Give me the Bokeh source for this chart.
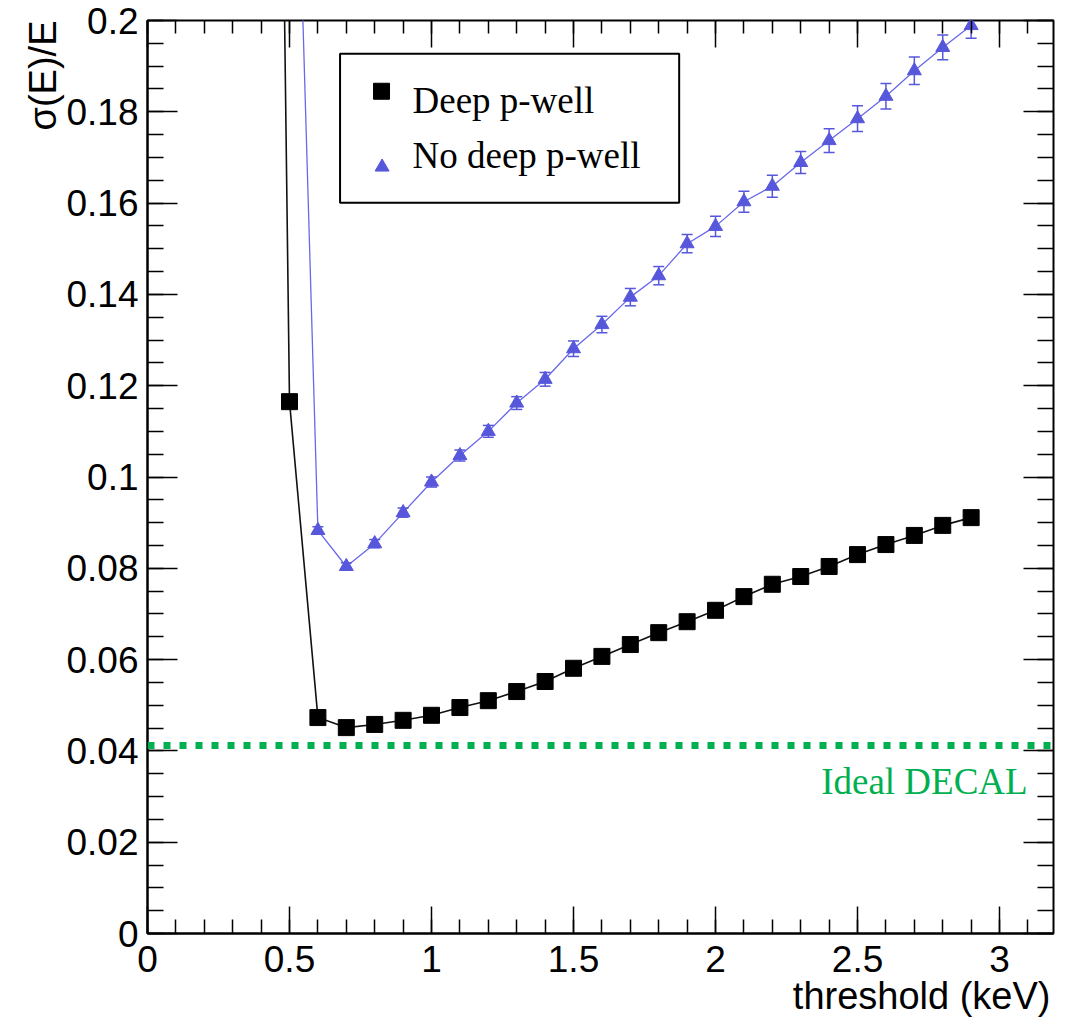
from bokeh.embed import file_html
from bokeh.models import (BoxAnnotation, ColumnDataSource, FixedTicker, Label,
                          LinearAxis, Range1d, Span, Title)
from bokeh.plotting import figure
from bokeh.resources import INLINE

# --- measured energy resolution vs. pixel threshold -------------------------
threshold_deep = [0.4, 0.5, 0.6, 0.7, 0.8, 0.9, 1.0, 1.1, 1.2, 1.3, 1.4, 1.5,
                  1.6, 1.7, 1.8, 1.9, 2.0, 2.1, 2.2, 2.3, 2.4, 2.5, 2.6, 2.7,
                  2.8, 2.9]
resolution_deep = [0.60, 0.1165, 0.0473, 0.0451, 0.0458, 0.0467, 0.0478,
                   0.0495, 0.0510, 0.0530, 0.0552, 0.0581, 0.0607, 0.0633,
                   0.0659, 0.0683, 0.0708, 0.0738, 0.0765, 0.0782, 0.0804,
                   0.0830, 0.0852, 0.0872, 0.0894, 0.0911]

threshold_nodeep = [0.5, 0.6, 0.7, 0.8, 0.9, 1.0, 1.1, 1.2, 1.3, 1.4, 1.5,
                    1.6, 1.7, 1.8, 1.9, 2.0, 2.1, 2.2, 2.3, 2.4, 2.5, 2.6,
                    2.7, 2.8, 2.9]
resolution_nodeep = [0.30, 0.0883, 0.0804, 0.0854, 0.0922, 0.0989, 0.1047,
                     0.1100, 0.1162, 0.1214, 0.1281, 0.1334, 0.1394, 0.1441,
                     0.1511, 0.1549, 0.1603, 0.1637, 0.1689, 0.1737, 0.1785,
                     0.1834, 0.1890, 0.1941, 0.1989]
error_nodeep = [0.0, 0.0008, 0.0008, 0.0009, 0.0010, 0.0011, 0.0012, 0.0013,
                0.0014, 0.0015, 0.0017, 0.0018, 0.0019, 0.0020, 0.0020,
                0.0022, 0.0023, 0.0024, 0.0024, 0.0026, 0.0028, 0.0028,
                0.0030, 0.0027, 0.0028]

ideal_decal = 0.0412

series_names = ["Deep p-well", "No deep p-well"]
x_title = "threshold (keV)"
y_title = "σ(E)/E"

x_ticks = [0, 0.5, 1, 1.5, 2, 2.5, 3]
x_tick_labels = ["0", "0.5", "1", "1.5", "2", "2.5", "3"]
y_ticks = [0, 0.02, 0.04, 0.06, 0.08, 0.1, 0.12, 0.14, 0.16, 0.18, 0.2]
y_tick_labels = ["0", "0.02", "0.04", "0.06", "0.08", "0.1", "0.12", "0.14",
                 "0.16", "0.18", "0.2"]

# --- styling ----------------------------------------------------------------
BLACK = "#111111"
BLUE_MARK = "#5757dc"
BLUE_LINE = "#6868ea"
GREEN = "#00b050"
SANS = "Liberation Sans"
SERIF = "Liberation Serif"

X_MAX = 3.19
Y_MAX = 0.2

p = figure(width=1065, height=1021, output_backend="svg", toolbar_location=None,
           x_range=Range1d(0, X_MAX), y_range=Range1d(0, Y_MAX),
           min_border_left=147, min_border_right=12, min_border_top=20,
           min_border_bottom=88, background_fill_color="white",
           border_fill_color="white")
p.xgrid.visible = False
p.ygrid.visible = False
p.outline_line_color = "black"
p.outline_line_width = 2

x_minor = [round(i * 0.1, 1) for i in range(32)]
y_minor = [round(i * 0.005, 3) for i in range(41)]


def style_axis(axis, ticks, minor, major_len, minor_len, labels=None):
    axis.ticker = FixedTicker(ticks=ticks, minor_ticks=minor)
    axis.major_tick_in = major_len
    axis.major_tick_out = 0
    axis.minor_tick_in = minor_len
    axis.minor_tick_out = 0
    axis.major_tick_line_color = "black"
    axis.minor_tick_line_color = "black"
    axis.major_tick_line_width = 1.5
    axis.minor_tick_line_width = 1.5
    axis.axis_line_color = "black"
    axis.axis_line_width = 2
    axis.major_label_text_font = SANS
    axis.major_label_text_color = "black"
    if labels is None:
        # tick marks only on the opposite sides of the frame
        axis.major_label_overrides = {t: "" for t in ticks}
        axis.major_label_text_font_size = "1px"
        axis.major_label_standoff = 0
        axis.axis_line_color = None
    else:
        axis.major_label_overrides = dict(zip(ticks, labels))
        axis.major_label_text_font_size = "37px"


style_axis(p.xaxis[0], x_ticks, x_minor, 27, 14, x_tick_labels)
p.xaxis[0].major_label_standoff = 12
style_axis(p.yaxis[0], y_ticks, y_minor, 30, 16, y_tick_labels)
p.yaxis[0].major_label_standoff = 9

top_axis = LinearAxis()
style_axis(top_axis, x_ticks, x_minor, 27, 13)
p.add_layout(top_axis, "above")
right_axis = LinearAxis()
style_axis(right_axis, y_ticks, y_minor, 30, 16)
p.add_layout(right_axis, "right")

# axis titles sit flush with the far end of each axis
p.add_layout(Title(text=x_title, align="right", offset=3, standoff=-4,
                   text_font=SANS, text_font_size="38px",
                   text_font_style="normal", text_color="black"), "below")
p.add_layout(Title(text=y_title, align="right", offset=0, standoff=0,
                   text_font=SANS, text_font_size="38px",
                   text_font_style="normal", text_color="black"), "left")

# --- reference line for the ideal digital calorimeter -----------------------
p.add_layout(Span(location=ideal_decal, dimension="width", line_color=GREEN,
                  line_width=7, line_dash="7 9", line_cap="butt"))
p.add_layout(Label(x=3.099, y=0.0332, text="Ideal DECAL", text_align="right",
                   text_baseline="alphabetic", text_font=SERIF,
                   text_font_size="37px", text_color=GREEN))

# --- no deep p-well: line, error bars, triangles -----------------------------
src_nodeep = ColumnDataSource(dict(
    x=threshold_nodeep,
    y=resolution_nodeep,
    lo=[v - e for v, e in zip(resolution_nodeep, error_nodeep)],
    hi=[v + e for v, e in zip(resolution_nodeep, error_nodeep)],
))
p.line("x", "y", source=src_nodeep, line_color=BLUE_LINE, line_width=1.3)
p.segment(x0="x", y0="lo", x1="x", y1="hi", source=src_nodeep,
          line_color=BLUE_MARK, line_width=1.5)
p.scatter(x="x", y="hi", source=src_nodeep, marker="dash", size=11,
          line_color=BLUE_MARK, line_width=1.5)
p.scatter(x="x", y="lo", source=src_nodeep, marker="dash", size=11,
          line_color=BLUE_MARK, line_width=1.5)
p.scatter(x="x", y="y", source=src_nodeep, marker="triangle", size=14,
          fill_color=BLUE_MARK, line_color=BLUE_MARK)

# --- deep p-well: line and squares ------------------------------------------
src_deep = ColumnDataSource(dict(x=threshold_deep, y=resolution_deep))
p.line("x", "y", source=src_deep, line_color=BLACK, line_width=1.6)
p.scatter(x="x", y="y", source=src_deep, marker="square", size=16,
          fill_color="black", line_color="black")

# --- legend box -------------------------------------------------------------
p.add_layout(BoxAnnotation(left=0.678, right=1.872, bottom=0.1601, top=0.1927,
                           fill_color="white", fill_alpha=1.0,
                           line_color="black", line_width=2, line_alpha=1.0,
                           level="underlay"))
p.scatter(x=[0.824], y=[0.1845], marker="square", size=16,
          fill_color="black", line_color="black")
p.scatter(x=[0.826], y=[0.1679], marker="triangle", size=14,
          fill_color=BLUE_MARK, line_color=BLUE_MARK)
for name, ly in zip(series_names, [0.1824, 0.1705]):
    p.add_layout(Label(x=0.933, y=ly, text=name, text_font=SERIF,
                       text_font_size="37px", text_color="black",
                       text_baseline="alphabetic"))

open("out.html", "w").write(file_html(p, INLINE))
